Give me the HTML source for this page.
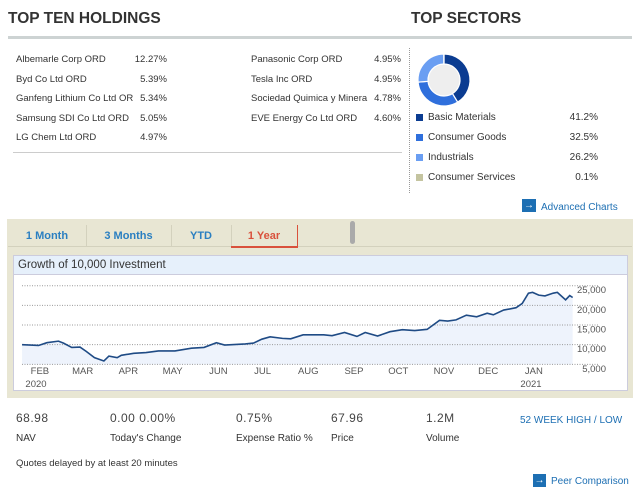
<!DOCTYPE html>
<html><head><meta charset="utf-8"><style>
body{margin:0;width:642px;height:494px;background:#fff;font-family:"Liberation Sans",sans-serif;position:relative;overflow:hidden;color:#333}
.a{position:absolute;white-space:nowrap}
.t{font-size:10px;color:#333}
.hl{font-size:9.5px;color:#333}
.h{font-size:15.5px;font-weight:bold;color:#333}
.b{color:#1d6fb3}
.tab{position:absolute;top:225px;height:21px;font-size:11px;font-weight:bold;color:#2a7fc1;text-align:center;line-height:22px;border-right:1px solid #d3d1bd}
</style></head><body>
<div class="a h" style="left:8px;top:10px">TOP TEN HOLDINGS</div>
<div class="a h" style="left:411px;top:10px">TOP SECTORS</div>
<div class="a" style="left:8px;top:36px;width:624px;height:3px;background:#cdd3d3"></div>
<div id="hold"></div>
<div class="a" style="left:13px;top:152px;width:389px;height:1px;background:#ccc"></div>
<div class="a" style="left:409px;top:48px;height:145px;border-left:1px dotted #999"></div>
<svg class="a" style="left:415px;top:51px" width="60" height="60" id="donut"></svg>
<div id="sect"></div>
<div class="a" style="left:522px;top:199px;width:14px;height:13px;background:#1d6fb3;color:#fff;font-size:10px;text-align:center;line-height:13px">→</div>
<div class="a t b" style="left:541px;top:202px">Advanced Charts</div>

<div class="a" style="left:7px;top:219px;width:626px;height:179px;background:#e8e6d3"></div>
<div class="a" style="left:8px;top:246px;width:624px;height:1px;background:#d3d1bd"></div>
<div class="tab" style="left:8px;width:78px">1 Month</div>
<div class="tab" style="left:86px;width:85px">3 Months</div>
<div class="tab" style="left:171px;width:60px">YTD</div>
<div class="tab" style="left:231px;width:66px;color:#d9513c;border:1px solid #d9513c;border-top:none;border-left:none;height:21px;border-bottom:2px solid #d9513c">1 Year</div>
<div class="a" style="left:350px;top:221px;width:5px;height:23px;background:#aaa;border-radius:3px"></div>
<div class="a" style="left:13px;top:255px;width:613px;height:134px;background:#fff;border:1px solid #ccd"></div>
<div class="a" style="left:14px;top:256px;width:613px;height:18px;background:#e6f0fb;border-bottom:1px solid #ccd;font-size:11.5px;line-height:19px;color:#333;text-indent:4px">Growth of 10,000 Investment</div>
<svg class="a" style="left:0;top:0" width="642" height="494" id="chart"></svg>

<div id="stats"></div>
<div class="a b" style="left:520px;top:415px;font-size:10px">52 WEEK HIGH / LOW</div>
<div class="a t" style="left:16px;top:458px;font-size:9.5px">Quotes delayed by at least 20 minutes</div>
<div class="a" style="left:533px;top:474px;width:13px;height:13px;background:#1d6fb3;color:#fff;font-size:10px;text-align:center;line-height:13px">→</div>
<div class="a t b" style="left:551px;top:476px">Peer Comparison</div>
<script>
const holdNames=["Albemarle Corp ORD","Byd Co Ltd ORD","Ganfeng Lithium Co Ltd OR","Samsung SDI Co Ltd ORD","LG Chem Ltd ORD","Panasonic Corp ORD","Tesla Inc ORD","Sociedad Quimica y Minera","EVE Energy Co Ltd ORD"];
const holdPcts=["12.27%","5.39%","5.34%","5.05%","4.97%","4.95%","4.95%","4.78%","4.60%"];
const hold=document.getElementById('hold');
holdNames.forEach((n,i)=>{const c=i<5?0:1,r=i<5?i:i-5;
 const d=document.createElement('div');d.className='a hl';d.style.left=(c?251:16)+'px';d.style.top=(54+r*19.6)+'px';d.textContent=n;
 
 hold.appendChild(d);
 const p=document.createElement('div');p.className='a hl';p.style.right=(642-(c?401:167))+'px';p.style.top=(54+r*19.6)+'px';p.textContent=holdPcts[i];
 
 hold.appendChild(p);});
const secNames=["Basic Materials","Consumer Goods","Industrials","Consumer Services"];
const secVals=[41.2,32.5,26.2,0.1];
const secColors=["#0b3c91","#2f6fdc","#6a9ef2","#c4c4a0"];
const sect=document.getElementById('sect');
secNames.forEach((n,i)=>{const y=114+i*20;
 const s=document.createElement('div');s.className='a';s.style.cssText=`left:416px;top:${y}px;width:7px;height:7px;background:${secColors[i]}`;
 
 sect.appendChild(s);
 const t=document.createElement('div');t.className='a t';t.style.cssText=`left:428px;top:${y-2}px`;t.textContent=n;
 
 sect.appendChild(t);
 const v=document.createElement('div');v.className='a t';v.style.cssText=`right:44px;top:${y-2}px`;v.textContent=secVals[i]+'%';
 
 sect.appendChild(v);});
const NS='http://www.w3.org/2000/svg';
(function(){const g=document.getElementById('donut');const cx=29,cy=29,R=26,r=16;
 const bg=document.createElementNS(NS,'circle');bg.setAttribute('cx',cx);bg.setAttribute('cy',cy);bg.setAttribute('r',r);bg.setAttribute('fill','#eee');g.appendChild(bg);
 const tot=secVals.reduce((a,b)=>a+b,0);let a0=0;
 secVals.forEach((v,i)=>{const a1=a0+v/tot*2*Math.PI;const p=(a,rr)=>[cx+rr*Math.sin(a),cy-rr*Math.cos(a)];
  const [x1,y1]=p(a0,R),[x2,y2]=p(a1,R),[x3,y3]=p(a1,r),[x4,y4]=p(a0,r);const L=(a1-a0)>Math.PI?1:0;
  const e=document.createElementNS(NS,'path');e.setAttribute('d',`M${x1},${y1}A${R},${R} 0 ${L} 1 ${x2},${y2}L${x3},${y3}A${r},${r} 0 ${L} 0 ${x4},${y4}Z`);
  e.setAttribute('fill',secColors[i]);e.setAttribute('stroke','#fff');e.setAttribute('stroke-width','1.2');
  
  g.appendChild(e);a0=a1;});})();
// chart data: days since 2020-02-01, value in thousands
const days=[-12.1,-0.9,4.7,12.6,16,21.6,27.2,31.4,37,43.4,46.8,52.4,55.2,63.6,72,80.4,91.6,102.8,111.3,119.7,125.3,139.3,144.9,150.5,156.1,164.5,170.1,178.5,192.5,198.1,206.6,215,220.6,229,237.4,245.8,254.2,262.6,271,276.6,282.2,289.2,296.2,303.3,307.5,314.5,322.9,327.1,331.3,334.1,338.3,342.5,348.1,350.9,356.5,359.3,361.3];
const values=[10.0,9.8,10.5,10.9,10.4,9.3,9.4,8.3,6.7,5.85,7.1,6.7,7.3,7.8,8.0,8.4,8.4,9.1,9.3,10.5,9.9,10.2,10.4,11.4,12.0,11.6,11.5,12.5,12.5,12.3,13.1,12.1,13.1,12.2,13.3,13.8,13.6,13.9,16.2,16.0,16.3,17.5,17.1,18.0,17.6,18.8,19.4,20.5,23.1,23.3,22.6,22.4,23.1,23.3,21.4,22.5,22.0];
const yTicks=[25,20,15,10,5];
const yTickLabels=["25,000","20,000","15,000","10,000","5,000"];
const months=["FEB","MAR","APR","MAY","JUN","JUL","AUG","SEP","OCT","NOV","DEC","JAN"];
const monthDays=[0,29,60,90,121,151,182,213,243,274,304,335];
const xS=d=>39.9+d*1.4746;
const yS=v=>285.7+(25-v)*3.932;
const svg=document.getElementById('chart');
function mk(t,at,name){const e=document.createElementNS(NS,t);for(const k in at)e.setAttribute(k,at[k]);svg.appendChild(e);return e;}
let pts=days.map((d,i)=>[xS(d),yS(values[i])]);
let area='M'+pts[0][0]+','+yS(5)+pts.map(p=>'L'+p[0]+','+p[1]).join('')+'L'+pts[pts.length-1][0]+','+yS(5)+'Z';
mk('path',{d:area,fill:'#eef3fc'},'area-fill');
yTicks.forEach((v,i)=>{mk('line',{x1:22,x2:599,y1:yS(v),y2:yS(v),stroke:'#999','stroke-dasharray':'1,1.5','stroke-width':1},'gridline');
 const t=mk('text',{x:606,y:yS(v)+7.5,'text-anchor':'end','font-size':'9.5','fill':'#555','font-family':'Liberation Sans'},'y-tick-label');t.textContent=yTickLabels[i];});
mk('polyline',{points:pts.map(p=>p.join(',')).join(' '),fill:'none',stroke:'#1f4b85','stroke-width':1.6},'growth-line');
months.forEach((m,i)=>{const t=mk('text',{x:xS(monthDays[i]),y:374,'text-anchor':'middle','font-size':'9.5','fill':'#555','font-family':'Liberation Sans'},'x-tick-label');t.textContent=m;});
mk('text',{x:36,y:387,'text-anchor':'middle','font-size':'9.5','fill':'#555','font-family':'Liberation Sans'},'year-label').textContent='2020';
mk('text',{x:531,y:387,'text-anchor':'middle','font-size':'9.5','fill':'#555','font-family':'Liberation Sans'},'year-label').textContent='2021';
const statVals=["68.98","0.00 0.00%","0.75%","67.96","1.2M"];
const statLabels=["NAV","Today's Change","Expense Ratio %","Price","Volume"];
const statX=[16,110,236,331,426];
const st=document.getElementById('stats');
statVals.forEach((v,i)=>{const a=document.createElement('div');a.className='a';a.style.cssText=`left:${statX[i]}px;top:411px;font-size:12px;color:#444;letter-spacing:0.5px`;a.textContent=v;
 
 st.appendChild(a);
 const b=document.createElement('div');b.className='a t';b.style.cssText=`left:${statX[i]}px;top:433px`;b.textContent=statLabels[i];
 
 st.appendChild(b);});
</script>
</body></html>
